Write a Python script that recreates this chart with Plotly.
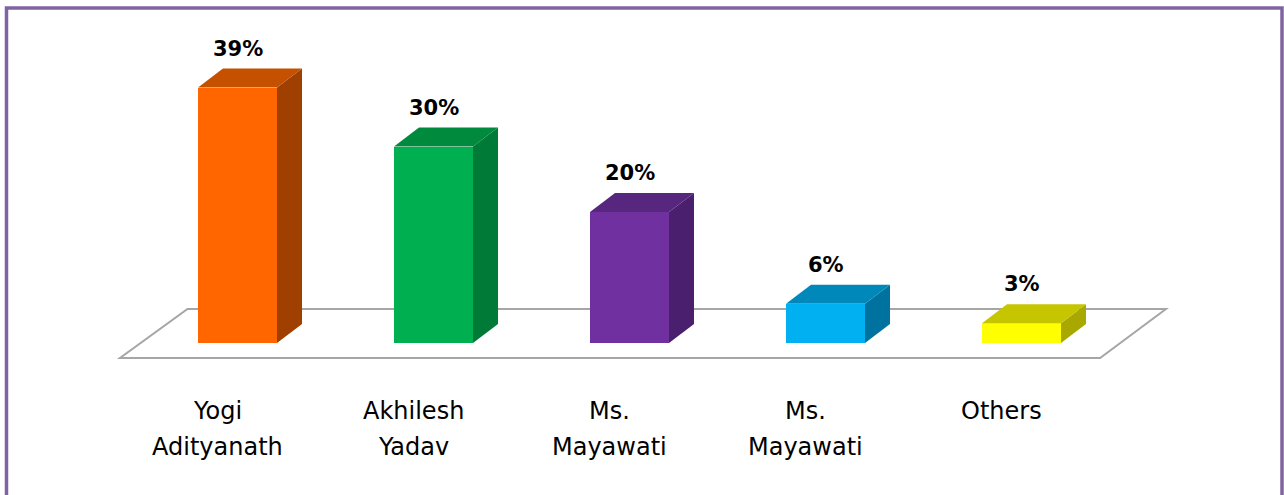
import plotly.graph_objects as go

# ---- data ----
categories = ["Yogi<br>Adityanath", "Akhilesh<br>Yadav", "Ms.<br>Mayawati", "Ms.<br>Mayawati", "Others"]
values = [39, 30, 20, 6, 3]
value_labels = ["39%", "30%", "20%", "6%", "3%"]
front_colors = ["#FF6600", "#00B050", "#7030A0", "#00B0F0", "#FFFF00"]
side_colors = ["#A04000", "#007A37", "#4A1F6E", "#0072A0", "#A8A800"]
top_colors = ["#C45000", "#008A3E", "#57267F", "#0088BA", "#C6C600"]

# ---- geometry (in axis units) ----
W = 1284
H = 495
ML, MR, MT, MB = 100, 84, 20, 115
PX_PER_CAT = 196.0
PX_PER_PCT = 6.55
X0_PX = 237.5      # pixel x of first category
BASE_PX = 343.0    # pixel y of value 0
plot_w = W - ML - MR
plot_h = H - MT - MB
xr = [(ML - X0_PX) / PX_PER_CAT, (ML + plot_w - X0_PX) / PX_PER_CAT]
yr = [(BASE_PX - (MT + plot_h)) / PX_PER_PCT, (BASE_PX - MT) / PX_PER_PCT]

bar_w = 79 / PX_PER_CAT
ddx = 25 / PX_PER_CAT
ddy = 19 / PX_PER_PCT

n = len(values)
xs = list(range(n))

fig = go.Figure()
fig.add_trace(go.Bar(
    x=xs, y=values, width=bar_w,
    marker=dict(color=front_colors, line=dict(width=0)),
    hoverinfo="skip", showlegend=False,
))

shapes = []
# floor
fb_y = 34 / PX_PER_PCT
ff_y = -15 / PX_PER_PCT
fl_back = -50 / PX_PER_CAT
fl_front = -117.5 / PX_PER_CAT
fr_back = (n - 1) + 0.737
fr_front = (n - 1) + 0.401
shapes.append(dict(
    type="path", xref="x", yref="y", layer="below",
    path=f"M {fl_back},{fb_y} L {fr_back},{fb_y} L {fr_front},{ff_y} L {fl_front},{ff_y} Z",
    line=dict(color="#A6A6A6", width=2), fillcolor="white",
))

# 3D faces
for i, v in enumerate(values):
    xl = i - bar_w / 2
    xrr = i + bar_w / 2
    # side
    shapes.append(dict(
        type="path", xref="x", yref="y", layer="above",
        path=f"M {xrr},0 L {xrr + ddx},{ddy} L {xrr + ddx},{v + ddy} L {xrr},{v} Z",
        line=dict(width=0), fillcolor=side_colors[i],
    ))
    # top
    shapes.append(dict(
        type="path", xref="x", yref="y", layer="above",
        path=f"M {xl},{v} L {xl + ddx},{v + ddy} L {xrr + ddx},{v + ddy} L {xrr},{v} Z",
        line=dict(width=0), fillcolor=top_colors[i],
    ))

# outer purple frame
def px_to_paper_x(px):
    return (px - ML) / plot_w

def px_to_paper_y(py):
    return 1 - (py - MT) / plot_h

shapes.append(dict(
    type="rect", xref="paper", yref="paper",
    x0=px_to_paper_x(6.5), x1=px_to_paper_x(1282),
    y0=px_to_paper_y(520), y1=px_to_paper_y(8),
    line=dict(color="#8064A2", width=3.5), fillcolor="rgba(0,0,0,0)",
))

annotations = []
for i, v in enumerate(values):
    annotations.append(dict(
        x=i, y=v + ddy, xref="x", yref="y", text=value_labels[i],
        showarrow=False, yanchor="bottom", xanchor="center", yshift=6,
        font=dict(family="DejaVu Sans", size=21, color="#000000", weight="bold"),
    ))
    lines = categories[i].split("<br>")
    lx = i - 20 / PX_PER_CAT
    line_ys = [411, 447]
    for j, t in enumerate(lines):
        annotations.append(dict(
            x=lx, y=px_to_paper_y(line_ys[j]), xref="x", yref="paper", text=t,
            showarrow=False, yanchor="middle", xanchor="center",
            font=dict(family="DejaVu Sans", size=24, color="#000000"),
        ))

fig.update_layout(
    width=W, height=H,
    margin=dict(l=ML, r=MR, t=MT, b=MB),
    paper_bgcolor="white", plot_bgcolor="rgba(0,0,0,0)",
    xaxis=dict(range=xr, visible=False, fixedrange=True),
    yaxis=dict(range=yr, visible=False, fixedrange=True),
    shapes=shapes, annotations=annotations,
    bargap=0,
)

fig.write_html("out.html", include_plotlyjs=True,
               config={"displayModeBar": False},
               post_script="document.body.style.margin='0';document.body.style.overflow='hidden';")
